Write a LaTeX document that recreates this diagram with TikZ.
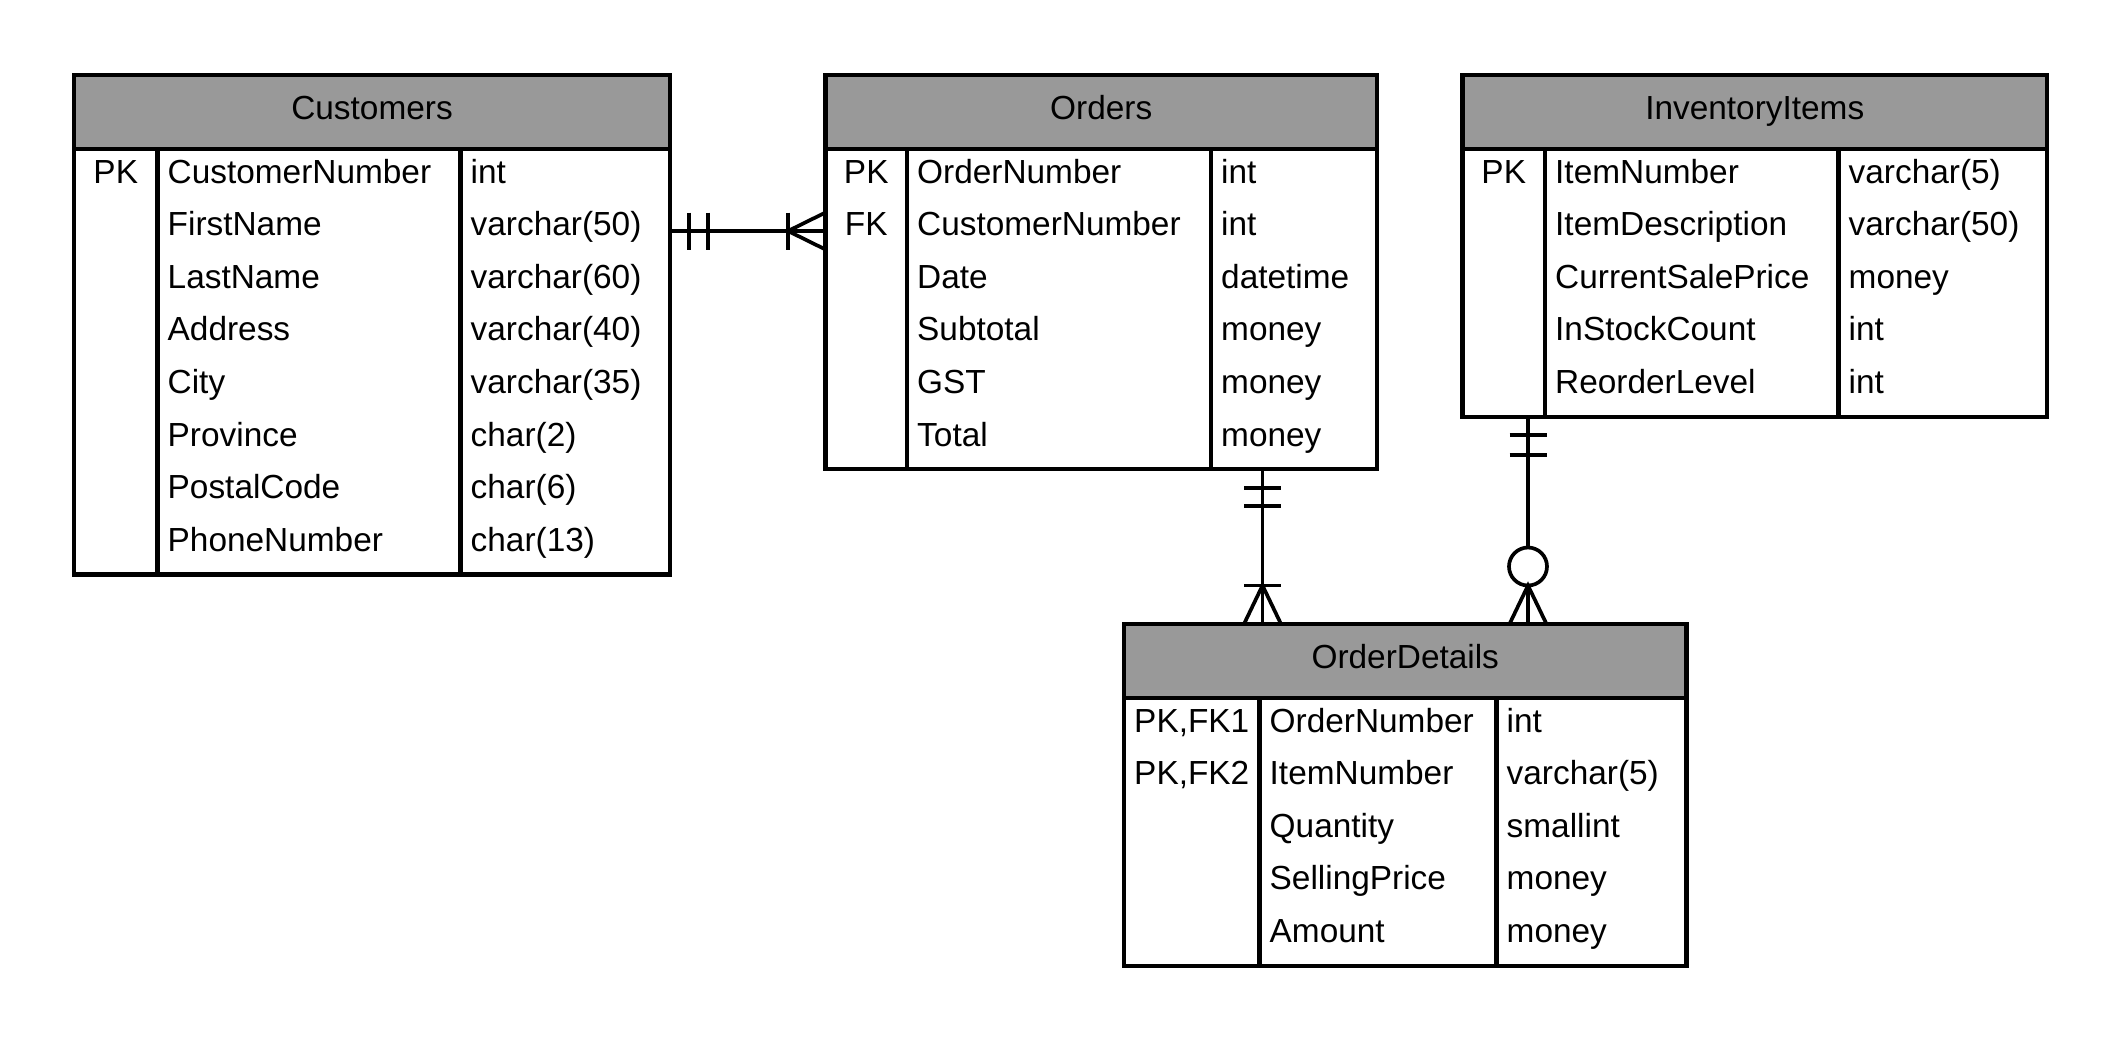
\documentclass[tikz,border=0pt]{standalone}
\usepackage{fontspec}
\setmainfont{Liberation Sans}
\usepackage{xcolor}
\usepackage{tikz}
\usetikzlibrary{calc}
\definecolor{headerGray}{RGB}{153,153,153}
\newcommand{\tableName}{table}
\newcommand{\tableTitle}{Title}
\newcommand{\tableKeys}{0/PK}
\newcommand{\tableFields}{0/Name/type}
\newcommand{\tableWidth}{5}
\newcommand{\rowCount}{1}
\newcommand{\keyWidth}{.8}
\newcommand{\typeOffset}{3.8}
\newcommand{\headerHeight}{.743}
\newcommand{\rowDistance}{.526}
\newcommand{\firstRowOffset}{1.08}
\newcommand{\titleOffset}{.44}
\newcommand{\textOffset}{.095}
\newcommand{\drawTable}{%
	\pgfmathsetmacro{\tableHeight}{\rowCount*\rowDistance+.787}
	\node[tableBox, minimum width=\tableWidth cm, minimum height=\tableHeight cm] (\tableName) at (0,0) {};
	\draw[headerBox] (\tableName.north west) rectangle ++(\tableWidth,-\headerHeight);
	\node[titleText] (\tableName Title) at (\tableWidth/2,-\titleOffset) {\tableTitle};
	\draw[tableLine] (\keyWidth,-\headerHeight) -- (\keyWidth,-\tableHeight);
	\draw[tableLine] (\typeOffset,-\headerHeight) -- (\typeOffset,-\tableHeight);
	\foreach \rowNumber/\keyName in \tableKeys
	{
		\node[keyText] (\tableName Key\rowNumber) at (\keyWidth/2,{-\firstRowOffset-\rowNumber*\rowDistance}) {\keyName};
	}
	\foreach \rowNumber/\fieldName/\fieldType in \tableFields
	{
		\node[fieldText] (\tableName Field\rowNumber) at (\keyWidth+\textOffset,{-\firstRowOffset-\rowNumber*\rowDistance}) {\fieldName};
		\node[fieldText] (\tableName Type\rowNumber) at (\typeOffset+\textOffset,{-\firstRowOffset-\rowNumber*\rowDistance}) {\fieldType};
	}
}
\tikzset{
	tableLine/.style={line width=1.15pt},
	tableBox/.style={tableLine, draw, anchor=north west, inner sep=0pt, outer sep=0pt},
	headerBox/.style={tableLine, draw, fill=headerGray},
	titleText/.style={anchor=base, inner sep=0pt, font=\fontsize{9.5}{11}\selectfont},
	keyText/.style={titleText},
	fieldText/.style={titleText, anchor=base west},
	link/.style={line width=1.05pt}
}

\begin{document}
\begin{tikzpicture}
	\useasboundingbox (0,0) rectangle (21.24,-10.41);

		\renewcommand{\tableName}{customers}
		\renewcommand{\tableTitle}{Customers}
		\renewcommand{\tableKeys}{0/PK}
		\renewcommand{\tableFields}{0/CustomerNumber/int, 1/FirstName/varchar(50), 2/LastName/varchar(60), 3/Address/varchar(40), 4/City/varchar(35), 5/Province/char(2), 6/PostalCode/char(6), 7/PhoneNumber/char(13)}
		\renewcommand{\tableWidth}{5.96}
		\renewcommand{\rowCount}{8}
		\renewcommand{\keyWidth}{.835}
		\renewcommand{\typeOffset}{3.865}
		\begin{scope}[shift={(0.74,-0.75)}]
			\drawTable
		\end{scope}

		\renewcommand{\tableName}{orders}
		\renewcommand{\tableTitle}{Orders}
		\renewcommand{\tableKeys}{0/PK, 1/FK}
		\renewcommand{\tableFields}{0/OrderNumber/int, 1/CustomerNumber/int, 2/Date/datetime, 3/Subtotal/money, 4/GST/money, 5/Total/money}
		\renewcommand{\tableWidth}{5.515}
		\renewcommand{\rowCount}{6}
		\renewcommand{\keyWidth}{.815}
		\renewcommand{\typeOffset}{3.855}
		\begin{scope}[shift={(8.255,-0.75)}]
			\drawTable
		\end{scope}

		\renewcommand{\tableName}{inventory}
		\renewcommand{\tableTitle}{InventoryItems}
		\renewcommand{\tableKeys}{0/PK}
		\renewcommand{\tableFields}{0/ItemNumber/varchar(5), 1/ItemDescription/varchar(50), 2/CurrentSalePrice/money, 3/InStockCount/int, 4/ReorderLevel/int}
		\renewcommand{\tableWidth}{5.845}
		\renewcommand{\rowCount}{5}
		\renewcommand{\keyWidth}{.825}
		\renewcommand{\typeOffset}{3.76}
		\begin{scope}[shift={(14.625,-0.75)}]
			\drawTable
		\end{scope}

		\renewcommand{\tableName}{orderDetails}
		\renewcommand{\tableTitle}{OrderDetails}
		\renewcommand{\tableKeys}{0/{PK,FK1}, 1/{PK,FK2}}
		\renewcommand{\tableFields}{0/OrderNumber/int, 1/ItemNumber/varchar(5), 2/Quantity/smallint, 3/SellingPrice/money, 4/Amount/money}
		\renewcommand{\tableWidth}{5.625}
		\renewcommand{\rowCount}{5}
		\renewcommand{\keyWidth}{1.355}
		\renewcommand{\typeOffset}{3.725}
		\begin{scope}[shift={(11.24,-6.24)}]
			\drawTable
		\end{scope}

		% customers 1 -- many orders
		\coordinate (customersLink) at ($(customers.north east)+(0,-1.56)$);
		\coordinate (ordersLink) at ($(orders.north west)+(0,-1.56)$);
		\draw[link] (customersLink) -- (ordersLink);
		\foreach \barOffset in {.19,.38}
			\draw[link] ($(customersLink)+(\barOffset,.185)$) -- ++(0,-.37);
		\draw[link] ($(ordersLink)+(-.375,.185)$) -- ++(0,-.37);
		\draw[link] ($(ordersLink)+(0,.185)$) -- ++(-.375,-.185) -- ++(.375,-.185);

		% orders 1 -- many order details
		\coordinate (ordersDown) at ($(orders.south west)+(4.37,0)$);
		\coordinate (orderDetailsOrder) at ($(orderDetails.north west)+(1.385,0)$);
		\draw[link] (ordersDown) -- (orderDetailsOrder);
		\foreach \barOffset in {.187,.37}
			\draw[link] ($(ordersDown)+(-.185,-\barOffset)$) -- ++(.37,0);
		\draw[link] ($(orderDetailsOrder)+(-.185,.385)$) -- ++(.37,0);
		\draw[link] ($(orderDetailsOrder)+(-.185,0)$) -- ++(.185,.385) -- ++(.185,-.385);

		% inventory 1 -- zero or many order details
		\coordinate (inventoryDown) at ($(inventory.south west)+(.655,0)$);
		\coordinate (orderDetailsItem) at ($(orderDetails.north west)+(4.04,0)$);
		\draw[link] (inventoryDown) -- (orderDetailsItem);
		\foreach \barOffset in {.183,.383}
			\draw[link] ($(inventoryDown)+(-.185,-\barOffset)$) -- ++(.37,0);
		\draw[link, fill=white] ($(orderDetailsItem)+(0,.575)$) circle (.19);
		\draw[link] ($(orderDetailsItem)+(-.185,0)$) -- ++(.185,.385) -- ++(.185,-.385);
	\end{tikzpicture}
\end{document}
